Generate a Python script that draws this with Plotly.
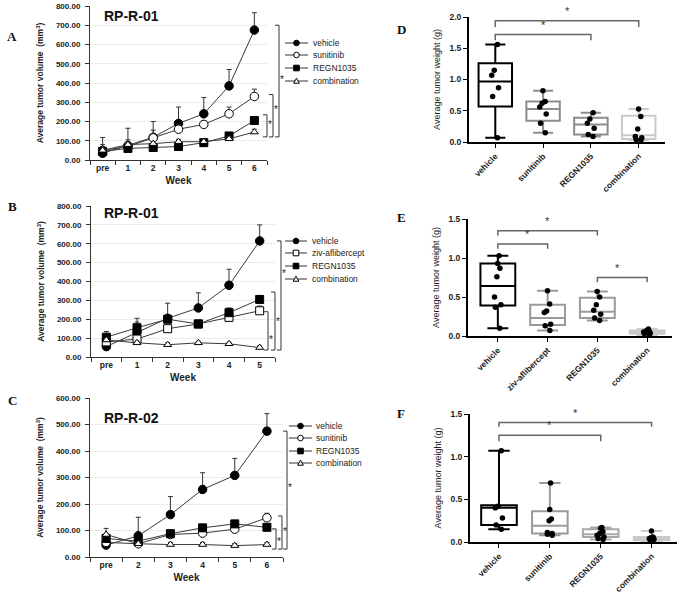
import plotly.graph_objects as go

W, H = 683, 595

# ---------------- data: line charts ----------------
weeks_A = ["pre", "1", "2", "3", "4", "5", "6"]
A_vehicle = [35, 75, 118, 190, 240, 385, 675]
A_vehicle_err = [82, 90, 82, 85, 85, 85, 90]
A_sunitinib = [50, 70, 115, 160, 185, 240, 330]
A_sunitinib_err = [30, 35, 40, 25, 20, 35, 38]
A_regn = [45, 60, 65, 70, 90, 125, 205]
A_regn_err = [10, 10, 10, 10, 10, 12, 15]
A_comb = [50, 80, 85, 95, 95, 110, 145]
A_comb_err = [10, 10, 10, 12, 10, 10, 15]

weeks_B = ["pre", "1", "2", "3", "4", "5"]
B_vehicle = [55, 130, 205, 260, 380, 615]
B_vehicle_err = [20, 75, 80, 80, 85, 85]
B_ziv = [80, 95, 150, 175, 210, 245]
B_ziv_err = [15, 20, 15, 15, 10, 25]
B_regn = [105, 155, 200, 175, 235, 305]
B_regn_err = [30, 30, 15, 10, 25, 20]
B_comb = [90, 75, 65, 75, 70, 50]
B_comb_err = [10, 10, 10, 8, 8, 8]

weeks_C = ["pre", "2", "3", "4", "5", "6"]
C_vehicle = [45, 80, 160, 255, 308, 475]
C_vehicle_err = [15, 70, 68, 63, 64, 66]
C_sunitinib = [55, 50, 85, 90, 105, 148]
C_sunitinib_err = [10, 10, 10, 10, 10, 17]
C_regn = [70, 60, 88, 110, 125, 112]
C_regn_err = [15, 10, 10, 10, 10, 10]
C_comb = [85, 50, 47, 47, 43, 47]
C_comb_err = [23, 8, 8, 8, 8, 8]

legend_A = ["vehicle", "sunitinib", "REGN1035", "combination"]
legend_B = ["vehicle", "ziv-aflibercept", "REGN1035", "combination"]
legend_C = ["vehicle", "sunitinib", "REGN1035", "combination"]

# ---------------- data: box plots ----------------
cats_D = ["vehicle", "sunitinib", "REGN1035", "combination"]
D_q1 = [0.57, 0.34, 0.12, 0.05]
D_med = [0.97, 0.53, 0.28, 0.11]
D_q3 = [1.26, 0.65, 0.39, 0.42]
D_lo = [0.07, 0.15, 0.09, 0.03]
D_hi = [1.56, 0.82, 0.47, 0.53]
D_pts = [[1.56, 1.15, 1.07, 0.87, 0.73, 0.07],
         [0.82, 0.65, 0.62, 0.56, 0.45, 0.30, 0.15],
         [0.47, 0.37, 0.30, 0.22, 0.12, 0.09],
         [0.53, 0.41, 0.21, 0.09, 0.07, 0.04, 0.03]]

cats_E = ["vehicle", "ziv-aflibercept", "REGN1035", "combination"]
E_q1 = [0.39, 0.14, 0.23, 0.03]
E_med = [0.64, 0.23, 0.31, 0.05]
E_q3 = [0.93, 0.40, 0.49, 0.07]
E_lo = [0.10, 0.07, 0.20, 0.01]
E_hi = [1.03, 0.58, 0.57, 0.09]
E_pts = [[1.03, 0.93, 0.87, 0.76, 0.50, 0.40, 0.37, 0.10],
         [0.58, 0.41, 0.32, 0.30, 0.15, 0.13, 0.07],
         [0.57, 0.50, 0.40, 0.33, 0.28, 0.23, 0.20],
         [0.09, 0.07, 0.06, 0.06, 0.05, 0.04, 0.03, 0.01]]

cats_F = ["vehicle", "sunitinib", "REGN1035", "combination"]
F_q1 = [0.20, 0.10, 0.06, 0.02]
F_med = [0.40, 0.19, 0.09, 0.04]
F_q3 = [0.43, 0.36, 0.15, 0.06]
F_lo = [0.15, 0.08, 0.03, 0.01]
F_hi = [1.07, 0.69, 0.17, 0.13]
F_pts = [[1.07, 0.42, 0.40, 0.28, 0.20, 0.15],
         [0.69, 0.38, 0.27, 0.25, 0.11, 0.10, 0.09, 0.08],
         [0.17, 0.16, 0.12, 0.10, 0.08, 0.06, 0.04, 0.03],
         [0.13, 0.06, 0.05, 0.04, 0.04, 0.03, 0.03]]

# significance brackets for box panels: (from idx, to idx, bar level, drop level)
sig_D = [(0, 3, 1.94, 1.84), (0, 2, 1.72, 1.63)]
sig_E = [(0, 3, 1.59, 1.53), (0, 2, 1.35, 1.29), (0, 1, 1.18, 1.12), (2, 3, 0.75, 0.69)]
sig_F = [(0, 3, 1.40, 1.35), (0, 2, 1.25, 1.18)]

# significance brackets for line panels: (top value, bottom value, star value)
sig_A = [(700, 120, 420), (340, 120, 263), (235, 120, 182)]
sig_B = [(615, 37, 440), (344, 37, 190), (240, 37, 95)]
sig_C = [(475, 30, 264), (155, 30, 98), (106, 30, 60)]

# ---------------- helpers ----------------
def X(px):
    return px / W

def Y(py):
    return 1 - py / H

def xdom(a, b):
    return [X(a), X(b)]

def ydom(top, bottom):
    return [Y(bottom), Y(top)]

SANS = "Liberation Sans, Arial, sans-serif"
SERIF = "Liberation Serif, Times New Roman, serif"
LINE = "#3a3a3a"

fig = go.Figure()
shapes = []
annots = []

series_style = {
    "vehicle": dict(symbol="circle", color="black", size=8.5),
    "sunitinib": dict(symbol="circle", color="white", size=8.5),
    "ziv-aflibercept": dict(symbol="square", color="white", size=8),
    "REGN1035": dict(symbol="square", color="black", size=8),
    "combination": dict(symbol="triangle-up", color="white", size=7),
}

def add_line_panel(k, weeks, series, names):
    for vals, err, name in zip(series[0::2], series[1::2], names):
        st = series_style[name]
        fig.add_trace(go.Scatter(
            x=weeks, y=vals, mode="lines+markers", name=name, showlegend=False,
            line=dict(color=LINE, width=1),
            marker=dict(symbol=st["symbol"], size=st["size"], color=st["color"],
                        line=dict(color="black", width=1)),
            error_y=dict(type="data", array=err, arrayminus=[0] * len(err),
                         symmetric=False, color="#333", thickness=1, width=2.5),
            xaxis="x%d" % k if k > 1 else "x", yaxis="y%d" % k if k > 1 else "y",
            cliponaxis=False))

add_line_panel(1, weeks_A, [A_vehicle, A_vehicle_err, A_sunitinib, A_sunitinib_err,
                            A_regn, A_regn_err, A_comb, A_comb_err], legend_A)
add_line_panel(2, weeks_B, [B_vehicle, B_vehicle_err, B_ziv, B_ziv_err,
                            B_regn, B_regn_err, B_comb, B_comb_err], legend_B)
add_line_panel(3, weeks_C, [C_vehicle, C_vehicle_err, C_sunitinib, C_sunitinib_err,
                            C_regn, C_regn_err, C_comb, C_comb_err], legend_C)

box_colors_D = ["black", "#8c8c8c", "#8c8c8c", "#cacaca"]
box_colors_E = ["black", "#9a9a9a", "#9a9a9a", "#cacaca"]
box_colors_F = ["black", "#9a9a9a", "#a8a8a8", "#cacaca"]

def add_box_panel(k, cats, q1, med, q3, lo, hi, pts, colors):
    for i, c in enumerate(cats):
        fig.add_trace(go.Box(
            x=[c], q1=[q1[i]], median=[med[i]], q3=[q3[i]],
            lowerfence=[lo[i]], upperfence=[hi[i]], y=[pts[i]],
            boxpoints="all", jitter=0.25, pointpos=0, width=0.7, whiskerwidth=0.6,
            line=dict(color=colors[i], width=2), fillcolor="rgba(0,0,0,0)",
            marker=dict(color="black", size=5.5), showlegend=False, name=c,
            xaxis="x%d" % k, yaxis="y%d" % k))

add_box_panel(4, cats_D, D_q1, D_med, D_q3, D_lo, D_hi, D_pts, box_colors_D)
add_box_panel(5, cats_E, E_q1, E_med, E_q3, E_lo, E_hi, E_pts, box_colors_E)
add_box_panel(6, cats_F, F_q1, F_med, F_q3, F_lo, F_hi, F_pts, box_colors_F)

# ---------------- axes ----------------
line_panels = {
    1: dict(xd=(90, 267), yd=(6, 160), ymax=800, cats=weeks_A),
    2: dict(xd=(91, 275), yd=(206, 357), ymax=800, cats=weeks_B),
    3: dict(xd=(90, 283), yd=(398, 557), ymax=600, cats=weeks_C),
}
box_panels = {
    4: dict(xd=(469, 665), yd=(17, 142), ymax=2.0, cats=cats_D, rng=[-0.55, 3.55]),
    5: dict(xd=(468, 672), yd=(219, 336), ymax=1.5, cats=cats_E, rng=[-0.6, 3.5]),
    6: dict(xd=(470, 677), yd=(414, 542), ymax=1.5, cats=cats_F, rng=[-0.57, 3.5]),
}

layout = dict(template="none", width=W, height=H, margin=dict(l=0, r=0, t=0, b=0, pad=0),
              paper_bgcolor="white", plot_bgcolor="rgba(0,0,0,0)",
              showlegend=False, boxmode="overlay",
              font=dict(family=SANS, color="#222"))

for k, p in line_panels.items():
    xs = "xaxis" if k == 1 else "xaxis%d" % k
    ys = "yaxis" if k == 1 else "yaxis%d" % k
    n = len(p["cats"])
    layout[xs] = dict(domain=xdom(*p["xd"]), anchor="y" if k == 1 else "y%d" % k,
                      automargin=False,
                      type="category", categoryorder="array", categoryarray=p["cats"],
                      range=[-0.5, n - 0.5], tickson="boundaries", ticks="outside",
                      ticklen=4, tickcolor="#333", showline=True, linecolor="#333",
                      linewidth=1, showgrid=False, zeroline=False,
                      tickfont=dict(size=8.5, weight="bold", color="#222"),
                      title=dict(text="Week", font=dict(size=10, weight="bold", color="#222"),
                                 standoff=4))
    layout[ys] = dict(domain=ydom(*p["yd"]), anchor="x" if k == 1 else "x%d" % k,
                      automargin=False,
                      range=[0, p["ymax"]], dtick=100, tickformat=".2f",
                      ticks="outside", ticklen=4, tickcolor="#333", ticklabelstandoff=3,
                      showline=True, linecolor="#333", linewidth=1,
                      showgrid=True, gridcolor="#ebebeb", gridwidth=1, zeroline=False,
                      tickfont=dict(size=8, weight="bold", color="#222"),
                      title=dict(text="Average tumor volume  (mm<sup>3</sup>)",
                                 font=dict(size=8.5, weight="bold", color="#222"),
                                 standoff=10))

for k, p in box_panels.items():
    layout["xaxis%d" % k] = dict(domain=xdom(*p["xd"]), anchor="y%d" % k,
                                 automargin=False,
                                 type="category", categoryorder="array",
                                 categoryarray=p["cats"], range=p["rng"],
                                 ticks="outside", ticklen=4, tickcolor="black",
                                 showline=True, linecolor="black", linewidth=2,
                                 showgrid=False, zeroline=False, tickangle=-45,
                                 tickfont=dict(size=8.5, weight="bold", color="#222"))
    layout["yaxis%d" % k] = dict(domain=ydom(*p["yd"]), anchor="x%d" % k,
                                 automargin=False,
                                 range=[0, p["ymax"]], dtick=0.5, tickformat=".1f",
                                 ticks="outside", ticklen=4, tickcolor="black",
                                 showline=True, linecolor="black", linewidth=2,
                                 showgrid=False, zeroline=False,
                                 tickfont=dict(size=8.5, weight="bold", color="#222"),
                                 title=dict(text="Average tumor weight (g)",
                                            font=dict(size=9, color="#222"), standoff=7))

# ---------------- line-panel brackets ----------------
bracket_x = {1: [279, 273, 267], 2: [281, 275, 268], 3: [287, 282, 276]}
for k, sig in zip([1, 2, 3], [sig_A, sig_B, sig_C]):
    yref = "y" if k == 1 else "y%d" % k
    for (top, bot, star), bx in zip(sig, bracket_x[k]):
        x1, x0 = X(bx), X(bx - 4)
        shapes.append(dict(type="path", xref="paper", yref=yref,
                           path="M %f,%f L %f,%f L %f,%f L %f,%f" % (x0, top, x1, top, x1, bot, x0, bot),
                           line=dict(color="#333", width=1)))
        annots.append(dict(x=X(bx + 3), y=star, xref="paper", yref=yref, text="*",
                           showarrow=False, font=dict(size=10, color="#222")))

# ---------------- box-panel brackets ----------------
for k, sig in zip([4, 5, 6], [sig_D, sig_E, sig_F]):
    rng = box_panels[k]["rng"]
    def dx(i, rng=rng):
        return (i - rng[0]) / (rng[1] - rng[0])
    for a, b, lvl, drop in sig:
        xa, xb = dx(a), dx(b)
        shapes.append(dict(type="path", xref="x%d domain" % k, yref="y%d" % k,
                           path="M %f,%f L %f,%f L %f,%f L %f,%f" % (xa, drop, xa, lvl, xb, lvl, xb, drop),
                           line=dict(color="#666", width=1.5)))
        annots.append(dict(x=(xa + xb) / 2, y=lvl, xref="x%d domain" % k, yref="y%d" % k,
                           text="*", showarrow=False, yanchor="bottom", yshift=2,
                           font=dict(size=11, color="#333")))

# ---------------- manual legends ----------------
def draw_legend(lx0, lx1, tx, rows, names):
    for py, name in zip(rows, names):
        st = series_style[name]
        shapes.append(dict(type="line", xref="paper", yref="paper",
                           x0=X(lx0), x1=X(lx1), y0=Y(py), y1=Y(py),
                           line=dict(color="#333", width=1)))
        cx = (lx0 + lx1) / 2
        r = 2.8
        fill = st["color"]
        if st["symbol"] == "circle":
            shapes.append(dict(type="circle", xref="paper", yref="paper",
                               x0=X(cx - r), x1=X(cx + r), y0=Y(py + r), y1=Y(py - r),
                               fillcolor=fill, line=dict(color="black", width=1)))
        elif st["symbol"] == "square":
            shapes.append(dict(type="rect", xref="paper", yref="paper",
                               x0=X(cx - r), x1=X(cx + r), y0=Y(py + r), y1=Y(py - r),
                               fillcolor=fill, line=dict(color="black", width=1)))
        else:
            shapes.append(dict(type="path", xref="paper", yref="paper",
                               path="M %f,%f L %f,%f L %f,%f Z" % (X(cx - r), Y(py + r * 0.8),
                                                                   X(cx + r), Y(py + r * 0.8),
                                                                   X(cx), Y(py - r)),
                               fillcolor=fill, line=dict(color="black", width=1)))
        annots.append(dict(x=X(tx), y=Y(py), xref="paper", yref="paper", text=name,
                           xanchor="left", yanchor="middle", showarrow=False,
                           font=dict(size=8.5, color="#222")))

draw_legend(285, 308, 311, [43, 55, 68, 81], legend_A)
draw_legend(285, 307, 310, [241, 253, 266, 279], legend_B)
draw_legend(289, 312, 314, [426, 438, 451, 463], legend_C)

# ---------------- panel titles & letters ----------------
for txt, px, py in [("RP-R-01", 102, 16), ("RP-R-01", 102, 213), ("RP-R-02", 102, 418)]:
    annots.append(dict(x=X(px), y=Y(py), xref="paper", yref="paper", text=txt,
                       xanchor="left", yanchor="middle", showarrow=False,
                       font=dict(size=14, weight="bold", color="#111")))
for txt, px, py in [("A", 12, 36), ("B", 12, 206), ("C", 12, 400),
                    ("D", 401, 29), ("E", 401, 217), ("F", 401, 413)]:
    annots.append(dict(x=X(px), y=Y(py), xref="paper", yref="paper", text=txt,
                       xanchor="center", yanchor="middle", showarrow=False,
                       font=dict(size=13, family=SERIF, weight="bold", color="#111")))

layout["shapes"] = shapes
layout["annotations"] = annots
fig.update_layout(**layout)
fig.write_html("out.html", config={"displayModeBar": False},
               post_script="document.body.style.margin='0';document.body.style.overflow='hidden';")
